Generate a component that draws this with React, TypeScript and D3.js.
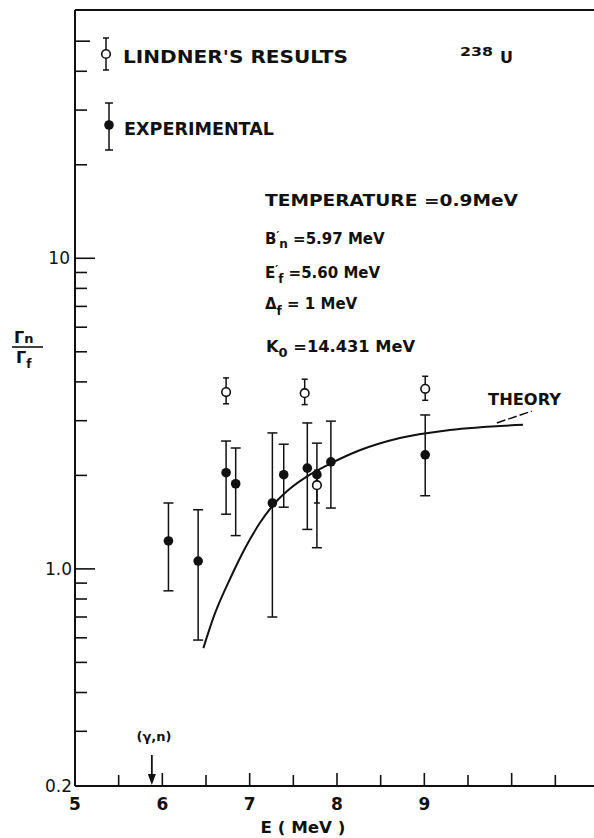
import * as d3 from "d3";

// experimental points (filled)
const expE = [6.07, 6.41, 6.73, 6.84, 7.26, 7.39, 7.66, 7.77, 7.93, 9.01];
const expVal = [1.23, 1.06, 2.04, 1.88, 1.63, 2.01, 2.11, 2.01, 2.21, 2.33];
const expLo = [0.85, 0.59, 1.5, 1.28, 0.7, 1.58, 1.34, 1.17, 1.57, 1.72];
const expHi = [1.63, 1.55, 2.58, 2.45, 2.74, 2.52, 2.95, 2.54, 2.99, 3.13];

// Lindner's results (open)
const linE = [6.73, 7.63, 7.77, 9.01];
const linVal = [3.71, 3.68, 1.86, 3.8];
const linLo = [3.4, 3.38, 1.63, 3.49];
const linHi = [4.12, 4.08, 2.08, 4.17];

// theory curve
const thE = [6.47, 6.6, 6.78, 6.95, 7.12, 7.29, 7.46, 7.69, 7.92, 8.26, 8.72, 9.29, 10.13];
const thVal = [0.556, 0.716, 0.935, 1.17, 1.41, 1.63, 1.81, 2.01, 2.18, 2.41, 2.64, 2.8, 2.91];

const xTickLabels = [5, 6, 7, 8, 9];
const yTickLabels = ["0.2", "1.0", "10"];
const yTickValues = [0.2, 1, 10];

const W = 594;
const H = 838;
const FONT = "'DejaVu Sans', sans-serif";

export default function App() {
  const x = d3.scaleLinear().domain([5, 11]).range([75, 599]);
  const y = d3.scaleLog().domain([0.2, 63]).range([786, 10]);

  const xTicks = d3.range(5, 11, 0.5);
  const yMinor: number[] = [];
  [0.1, 1, 10].forEach((dec) => {
    for (let k = 1; k < 10; k++) {
      const v = dec * k;
      if (v >= 0.2 && v <= 55) yMinor.push(v);
    }
  });

  const line = d3
    .line<number>()
    .x((d, i) => x(thE[i]))
    .y((d) => y(d))
    .curve(d3.curveMonotoneX);

  const cap = 5;

  return (
    <svg width={W} height={H} style={{ position: "absolute", left: 0, top: 0, background: "#fff" }} fontFamily={FONT}>
      {/* frame */}
      <g stroke="#111" strokeWidth={2} fill="none">
        <line x1={x(5)} x2={x(5)} y1={y(63)} y2={y(0.2)} />
        <line x1={x(5)} x2={W} y1={y(63)} y2={y(63)} />
        <line x1={x(5)} x2={W} y1={y(0.2)} y2={y(0.2)} />
      </g>

      {/* x ticks */}
      <g stroke="#111" strokeWidth={1.6}>
        {xTicks.map((t) => (
          <line key={t} x1={x(t)} x2={x(t)} y1={y(0.2)} y2={y(0.2) - (t % 1 === 0 ? 13 : 11)} />
        ))}
      </g>
      {xTickLabels.map((t) => (
        <text key={t} x={x(t)} y={810} textAnchor="middle" fontSize={17} fontWeight="bold" fill="#111">
          {t}
        </text>
      ))}
      <text x={303} y={833} textAnchor="middle" fontSize={15} fontWeight="bold" fill="#111" textLength={85} lengthAdjust="spacingAndGlyphs">
        E ( MeV )
      </text>

      {/* y ticks */}
      <g stroke="#111" strokeWidth={1.6}>
        {yMinor.map((v) => (
          <line key={v} x1={x(5)} x2={x(5) + (v === 1 || v === 10 ? 20 : v === 50 ? 15 : 12)} y1={y(v)} y2={y(v)} />
        ))}
      </g>
      {yTickValues.map((v, i) => (
        <text key={v} x={i === 2 ? 70 : 72} y={y(v) + 6} textAnchor="end" fontSize={17} fill="#111">
          {yTickLabels[i]}
        </text>
      ))}

      {/* y label */}
      <g fill="#111" fontWeight="bold">
        <text x={14} y={343} fontSize={16}>
          Γ<tspan fontSize={13}>n</tspan>
        </text>
        <line x1={12} x2={43} y1={347} y2={347} stroke="#111" strokeWidth={1.6} />
        <text x={16} y={363} fontSize={16}>
          Γ<tspan fontSize={12} dy={5}>f</tspan>
        </text>
      </g>

      {/* theory */}
      <path d={line(thVal) || ""} fill="none" stroke="#111" strokeWidth={2} />
      <line x1={x(9.83)} x2={x(10.23)} y1={y(2.95)} y2={y(3.22)} stroke="#111" strokeWidth={1.5} strokeDasharray="9 3" />
      <text x={x(9.73)} y={y(3.37)} fontSize={15} fontWeight="bold" fill="#111" textLength={73} lengthAdjust="spacingAndGlyphs">
        THEORY
      </text>

      {/* experimental error bars + points */}
      <g stroke="#111" strokeWidth={1.5}>
        {expE.map((e, i) => (
          <g key={i}>
            <line x1={x(e)} x2={x(e)} y1={y(expLo[i])} y2={y(expHi[i])} />
            <line x1={x(e) - cap} x2={x(e) + cap} y1={y(expLo[i])} y2={y(expLo[i])} />
            <line x1={x(e) - cap} x2={x(e) + cap} y1={y(expHi[i])} y2={y(expHi[i])} />
          </g>
        ))}
      </g>
      {expE.map((e, i) => (
        <circle key={i} cx={x(e)} cy={y(expVal[i])} r={4.8} fill="#111" />
      ))}

      {/* Lindner */}
      <g stroke="#111" strokeWidth={1.5}>
        {linE.map((e, i) => (
          <g key={i}>
            <line x1={x(e)} x2={x(e)} y1={y(linLo[i])} y2={y(linHi[i])} />
            <line x1={x(e) - 3} x2={x(e) + 3} y1={y(linLo[i])} y2={y(linLo[i])} />
            <line x1={x(e) - 3} x2={x(e) + 3} y1={y(linHi[i])} y2={y(linHi[i])} />
          </g>
        ))}
      </g>
      {linE.map((e, i) => (
        <circle key={i} cx={x(e)} cy={y(linVal[i])} r={4.3} fill="#fff" stroke="#111" strokeWidth={1.6} />
      ))}

      {/* legend */}
      <g stroke="#111" strokeWidth={1.5}>
        <line x1={106} x2={106} y1={38} y2={70} />
        <line x1={103} x2={109} y1={38} y2={38} />
        <line x1={103} x2={109} y1={70} y2={70} />
        <circle cx={106} cy={54} r={4.3} fill="#fff" strokeWidth={1.6} />
        <line x1={109} x2={109} y1={103} y2={150} />
        <line x1={105} x2={113} y1={103} y2={103} />
        <line x1={105} x2={113} y1={150} y2={150} />
        <circle cx={109} cy={125} r={4.8} fill="#111" stroke="none" />
      </g>
      <g fill="#111" fontWeight="bold">
        <text x={123} y={63} fontSize={18} textLength={225} lengthAdjust="spacingAndGlyphs">
          LINDNER'S RESULTS
        </text>
        <text x={124} y={135} fontSize={18} textLength={150} lengthAdjust="spacingAndGlyphs">
          EXPERIMENTAL
        </text>
        <text x={460} y={56} fontSize={12} textLength={33} lengthAdjust="spacingAndGlyphs">
          238
        </text>
        <text x={500} y={63} fontSize={15} textLength={13} lengthAdjust="spacingAndGlyphs">
          U
        </text>
      </g>

      {/* parameters */}
      <g fill="#111" fontWeight="bold" fontSize={15}>
        <text x={265} y={206} textLength={253} lengthAdjust="spacingAndGlyphs">
          TEMPERATURE =0.9MeV
        </text>
        <text x={265} y={244}>
          B<tspan fontSize={11} dy={-5}>′</tspan>
          <tspan fontSize={12} dy={9}>n</tspan>
          <tspan dy={-4}> =5.97 MeV</tspan>
        </text>
        <text x={265} y={278}>
          E<tspan fontSize={11} dy={-5}>′</tspan>
          <tspan fontSize={12} dy={10}>f</tspan>
          <tspan dy={-5}> =5.60 MeV</tspan>
        </text>
        <text x={265} y={309}>
          Δ<tspan fontSize={12} dy={6}>f</tspan>
          <tspan dy={-6}> = 1 MeV</tspan>
        </text>
        <text x={266} y={352} textLength={149} lengthAdjust="spacingAndGlyphs">
          K<tspan fontSize={12} dy={5}>0</tspan>
          <tspan dy={-5}> =14.431 MeV</tspan>
        </text>
      </g>

      {/* (gamma,n) threshold marker */}
      <text x={154} y={741} textAnchor="middle" fontSize={13} fontWeight="bold" fill="#111">
        (γ,n)
      </text>
      <line x1={x(5.88)} x2={x(5.88)} y1={755} y2={780} stroke="#111" strokeWidth={1.8} />
      <path d={`M${x(5.88) - 4},${774} L${x(5.88)},${785} L${x(5.88) + 4},${774} Z`} fill="#111" />
    </svg>
  );
}
